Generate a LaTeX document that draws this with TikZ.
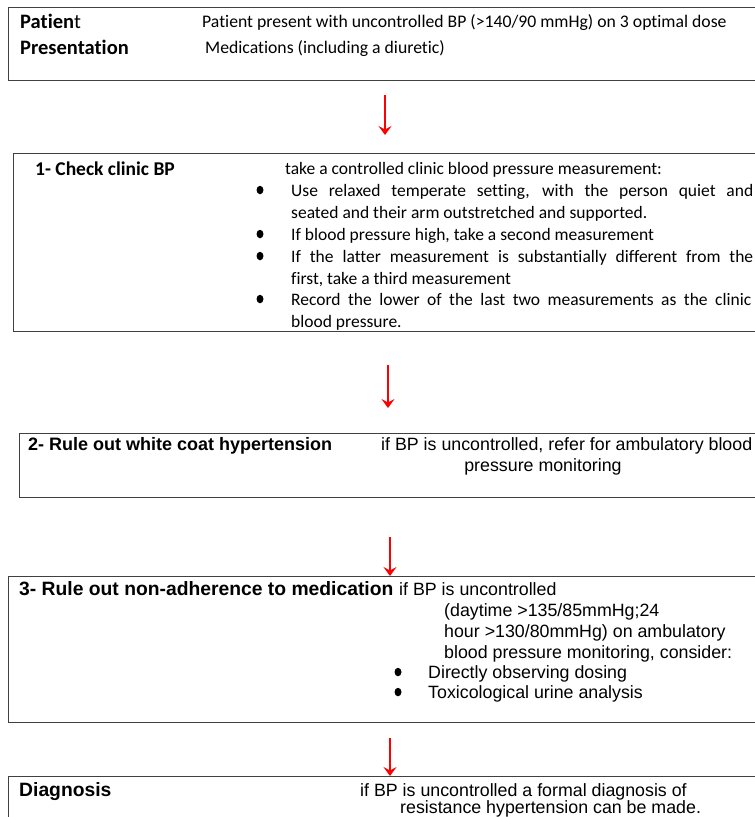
\documentclass[tikz,border=0pt]{standalone}
\usepackage{fontspec}
\setmainfont{Carlito}[Ligatures=NoCommon]
\newfontfamily\arial{Liberation Sans}
\usetikzlibrary{arrows.meta,shapes.geometric}
\begin{document}
\begin{tikzpicture}[x=1pt,y=-1pt,
  box/.style={draw=black!75,line width=1pt},
  txt/.style={inner sep=0pt,anchor=base west},
  cal/.style={txt,font=\fontsize{17.7}{20}\selectfont},
  cals/.style={txt,font=\fontsize{17.5}{20}\selectfont},
  calb/.style={txt,font=\fontsize{20.5}{22}\selectfont\bfseries},
  calbs/.style={txt,font=\fontsize{19.5}{22}\selectfont\bfseries},
  ari/.style={txt,font=\arial\fontsize{17.8}{21}\selectfont},
  arib/.style={txt,font=\arial\fontsize{18}{21}\selectfont\bfseries},
  aribig/.style={txt,font=\arial\fontsize{19.3}{22}\selectfont\bfseries},
  bul/.style={ellipse,fill=black,inner sep=0pt,minimum width=7pt,minimum height=8.5pt},
  arr/.style={draw=red,line width=2pt,-{Stealth[length=9pt,width=13pt,inset=3.5pt]}}]
\useasboundingbox (0,0) rectangle (755,817);
\clip (0,0) rectangle (755,817);
% boxes
\node[box,anchor=north west,minimum width=800pt,minimum height=73pt] (b1) at (8,7) {};
\node[box,anchor=north west,minimum width=800pt,minimum height=178pt] (b2) at (13,153) {};
\node[box,anchor=north west,minimum width=800pt,minimum height=64pt] (b3) at (19,433) {};
\node[box,anchor=north west,minimum width=800pt,minimum height=146pt] (b4) at (8,576) {};
\node[box,anchor=north west,minimum width=800pt,minimum height=60pt] (b5) at (8,776) {};
% box 1
\node[calb] (t1a) at (20,28) {Patien\mdseries t};
\node[calb] (t1b) at (20,54) {Presentation};
\node[cal] (t1c) at (202,27) {Patient present with uncontrolled BP (>140/90 mmHg) on 3 optimal dose};
\node[cal] (t1d) at (205,53) {Medications (including a diuretic)};
% box 2
\node[calbs] (t2a) at (35,175) {1- Check clinic BP};
\node[cals] (t2b) at (285,174) {take a controlled clinic blood pressure measurement:};
\node[bul] (u1) at (260,190) {};
\node[cals] (t2c) at (291,196) {\makebox[462pt][s]{Use relaxed temperate setting, with the person quiet and}};
\node[cals] (t2d) at (291,218) {seated and their arm outstretched and supported.};
\node[bul] (u2) at (260,234) {};
\node[cals] (t2e) at (291,240) {If blood pressure high, take a second measurement};
\node[bul] (u3) at (260,256) {};
\node[cals] (t2f) at (291,262) {\makebox[462pt][s]{If the latter measurement is substantially different from the}};
\node[cals] (t2g) at (291,284) {first, take a third measurement};
\node[bul] (u4) at (260,299) {};
\node[cals] (t2h) at (291,305) {\makebox[460pt][s]{Record the lower of the last two measurements as the clinic}};
\node[cals] (t2i) at (291,327) {blood pressure.};
% box 3
\node[arib] (t3a) at (28,450) {2- Rule out white coat hypertension};
\node[ari] (t3b) at (381,450) {if BP is uncontrolled, refer for ambulatory blood};
\node[ari,anchor=base] (t3c) at (543,471) {pressure monitoring};
% box 4
\node[aribig] (t4a) at (19,595) {3- Rule out non-adherence to medication};
\node[ari] (t4b) at (399,595) {if BP is uncontrolled};
\node[ari] (t4c) at (444,616) {(daytime >135/85mmHg;24};
\node[ari] (t4d) at (444,637) {hour >130/80mmHg) on ambulatory};
\node[ari] (t4e) at (444,658) {blood pressure monitoring, consider:};
\node[bul] (u5) at (398,672) {};
\node[ari] (t4f) at (428,678) {Directly observing dosing};
\node[bul] (u6) at (398,692) {};
\node[ari] (t4g) at (428,698) {Toxicological urine analysis};
% box 5
\node[aribig] (t5a) at (19,796) {Diagnosis};
\node[ari] (t5b) at (360,796) {if BP is uncontrolled a formal diagnosis of};
\node[ari] (t5c) at (400,813) {resistance hypertension can be made.};
% arrows
\coordinate (s1) at (385,95);  \coordinate (e1) at (385,135);
\coordinate (s2) at (388,365); \coordinate (e2) at (388,408);
\coordinate (s3) at (390,537);
\coordinate (s4) at (390,738);
\draw[arr] (s1) -- (e1);
\draw[arr] (s2) -- (e2);
\draw[arr] (s3) -- (s3 |- b4.north);
\draw[arr] (s4) -- (s4 |- b5.north);
\end{tikzpicture}
\end{document}
